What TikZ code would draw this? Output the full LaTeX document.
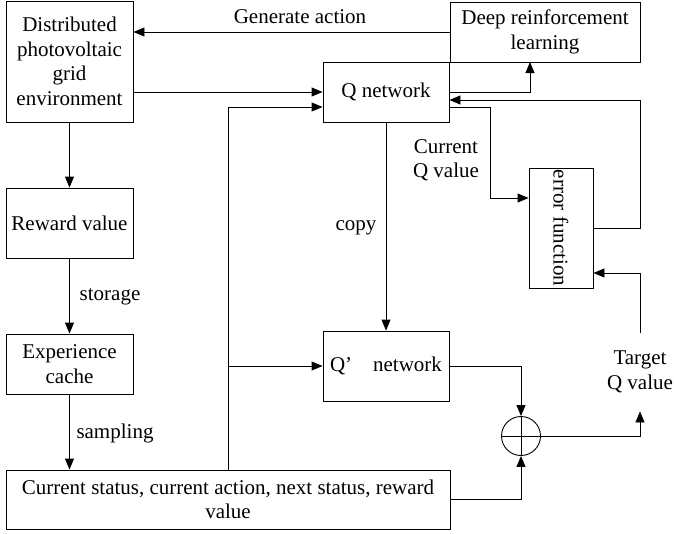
\documentclass[tikz,border=0pt]{standalone}
\usepackage{fontspec}
\setmainfont{Liberation Serif}
\usetikzlibrary{arrows.meta,calc}
\begin{document}
\begin{tikzpicture}[x=1pt,y=-1pt,
  font=\fontsize{21}{24.5}\selectfont,
  every path/.style={line width=0.9pt},
  box/.style={draw,rectangle,inner sep=0pt,align=center},
  arr/.style={-{Triangle[length=11pt,width=9pt]}},
  lbl/.style={inner sep=0pt,align=center}]
\useasboundingbox (0,0) rectangle (674,533);
\node[box,minimum width=127pt,minimum height=121pt] (env) at (69.5,61.5) {Distributed\\photovoltaic\\grid\\environment};
\node[box,minimum width=190pt,minimum height=60pt] (drl) at (545,32) {Deep reinforcement\\learning};
\node[box,minimum width=126pt,minimum height=60pt] (qnet) at (386,92) {Q network};
\node[box,minimum width=127pt,minimum height=70pt] (rew) at (69.5,223) {Reward value};
\node[box,minimum width=127pt,minimum height=60pt] (exp) at (69.5,364) {Experience\\cache};
\node[box,minimum width=444pt,minimum height=59pt] (bot) at (228,499.5) {Current status, current action, next status, reward\\value};
\node[box,minimum width=126pt,minimum height=70pt] (qp) at (386,366) {Q’\quad network};
\node[box,minimum width=64pt,minimum height=120pt] (err) at (561,228) {};
\node[rotate=-90,inner sep=0pt] at (err.center) {error function};
\node[draw,circle,minimum size=39pt,inner sep=0pt] (circ) at (521,436) {};
\draw (circ.north) -- (circ.south) (circ.west) -- (circ.east);
\node[lbl,minimum height=78pt] (tgt) at (640,372) {Target\\Q value};
\node[lbl] (lgen) at (300,17) {Generate action};
\node[lbl] (lsto) at (110,297) {storage};
\node[lbl] (lsam) at (115,433) {sampling};
\node[lbl] (lcopy) at (356,228) {copy};
\node[lbl] (lcur) at (446,160) {Current\\Q value};
\coordinate (drlin) at (530,62);
\draw[arr] (drl.west) -- (drl.west -| env.east);
\draw[arr] (qnet.west -| env.east) -- (qnet.west);
\draw[arr] (qnet.east) -| (drlin);
\draw[arr] (err.east) -- ++(47,0) |- ([yshift=-8pt]qnet.east);
\draw[arr] ([yshift=-15pt]qnet.east) -- ++(41,0) |- ([yshift=30pt]err.west);
\draw[arr] (qnet.south) -- (qp.north);
\draw[arr] (env.south) -- (rew.north);
\draw[arr] (rew.south) -- (exp.north);
\draw[arr] (exp.south) -- (exp.south |- bot.north);
\draw[arr] (bot.north) |- ([yshift=-15pt]qnet.west);
\draw[arr] (bot.north |- qp.west) -- (qp.west);
\draw[arr] (qp.east) -| (circ.north);
\draw[arr] (bot.east) -| (circ.south);
\draw[arr] (circ.east) -| (tgt.south);
\draw[arr] (tgt.north) |- ([yshift=-45pt]err.east);
\end{tikzpicture}
\end{document}
